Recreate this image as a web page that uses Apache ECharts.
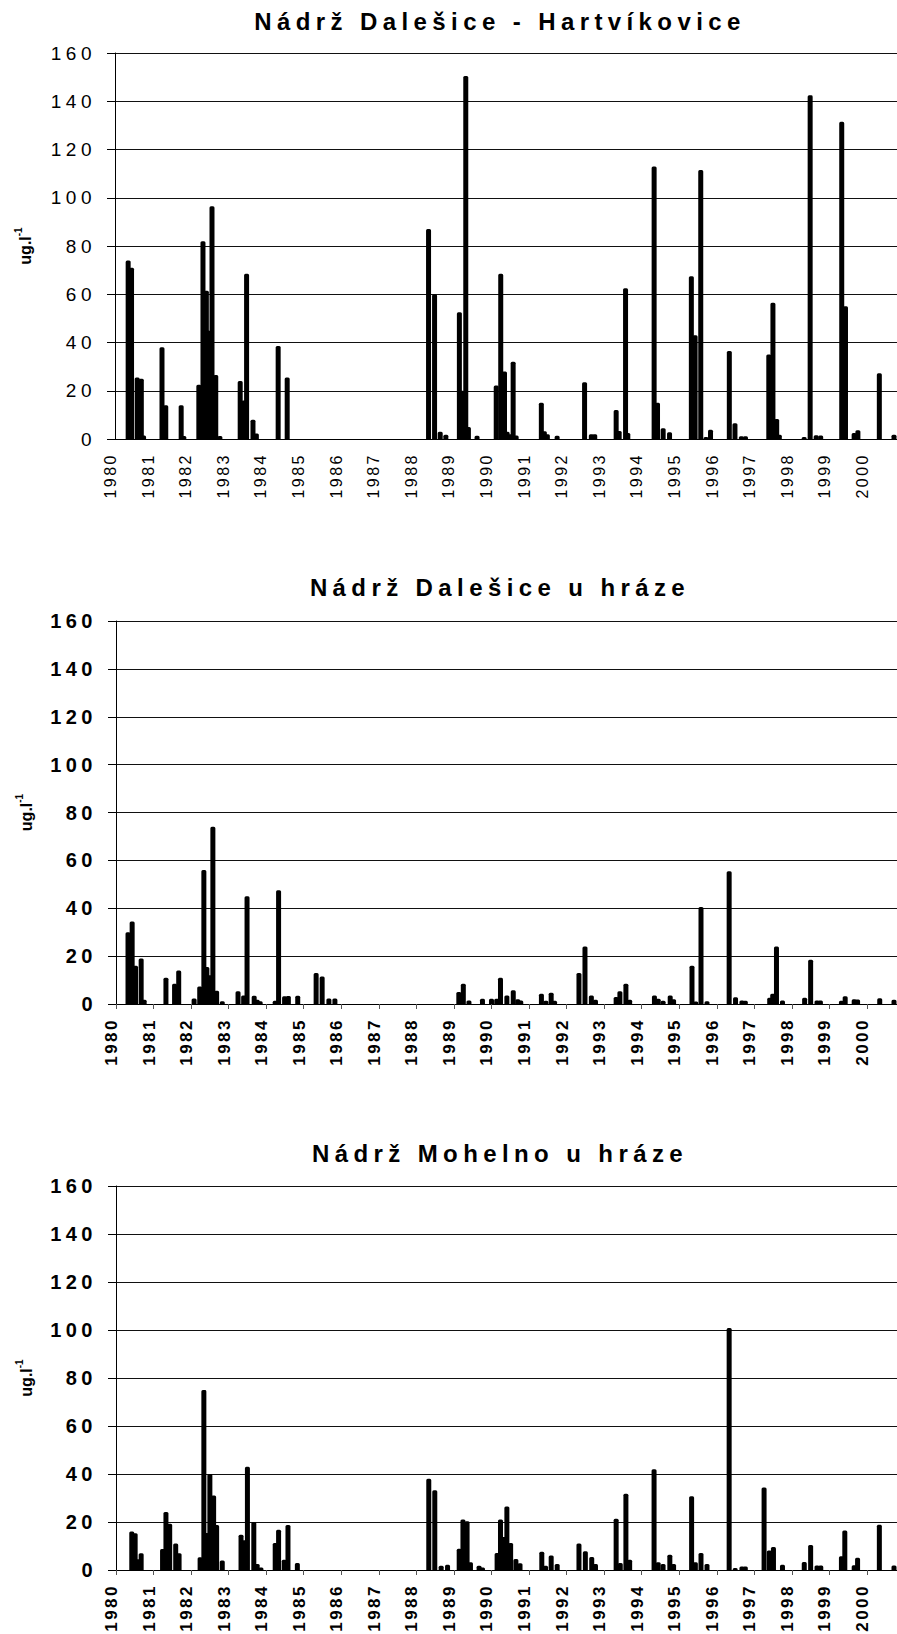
<!DOCTYPE html>
<html><head><meta charset="utf-8">
<script src="https://cdn.jsdelivr.net/npm/echarts@6/dist/echarts.min.js"></script>
<style>html,body{margin:0;padding:0;background:#fff}#c{width:897px;height:1634px}</style>
</head><body><div id="c"></div>
<script>
const titles = ['Nádrž Dalešice - Hartvíkovice', 'Nádrž Dalešice u hráze', 'Nádrž Mohelno u hráze'];
const yearTicks = [1980,1981,1982,1983,1984,1985,1986,1987,1988,1989,1990,1991,1992,1993,1994,1995,1996,1997,1998,1999,2000];
const yTicks = [0,20,40,60,80,100,120,140,160];
const unitMain = 'ug.l';
const unitSup = '-1';

// [date (decimal year), value ug/l]
const dalesiceHartvikovice = [
 [1980.35,74],[1980.44,71],[1980.59,25.5],[1980.70,25],[1980.76,1.5],
 [1981.25,38],[1981.35,14],[1981.76,14],[1981.83,1.2],
 [1982.23,22.5],[1982.34,82],[1982.43,61.5],[1982.47,45],[1982.58,96.5],[1982.68,26.5],[1982.79,1.2],
 [1983.33,24],[1983.43,16],[1983.50,68.5],[1983.67,8],[1983.76,2.3],
 [1984.34,38.5],[1984.58,25.5],
 [1988.34,87],[1988.50,60],[1988.65,3],[1988.80,1.8],
 [1989.16,52.5],[1989.23,20],[1989.33,150.5],[1989.40,5],[1989.63,1.3],
 [1990.14,22.2],[1990.26,68.5],[1990.36,28],[1990.43,3],[1990.52,2],[1990.59,32],[1990.67,1.5],
 [1991.34,15],[1991.42,3.2],[1991.50,2],[1991.76,1.3],
 [1992.49,23.5],[1992.67,2],[1992.76,2],
 [1993.33,12],[1993.41,3.3],[1993.58,62.5],[1993.64,2.5],
 [1994.34,113],[1994.43,15],[1994.58,4.5],[1994.75,2.8],
 [1995.33,67.5],[1995.43,43],[1995.58,111.5],[1995.72,0.8],[1995.84,3.8],
 [1996.34,36.5],[1996.49,6.5],[1996.66,1.1],[1996.77,1.1],
 [1997.39,35],[1997.50,56.5],[1997.60,8.3],[1997.67,1.8],
 [1998.33,0.8],[1998.49,142.5],[1998.65,1.6],[1998.77,1.4],
 [1999.33,131.5],[1999.43,55],[1999.66,2.5],[1999.76,3.6],
 [2000.33,27.3],[2000.72,1.8]
];
const dalesiceHraz = [
 [1980.32,30],[1980.43,34.5],[1980.52,16],[1980.67,19],[1980.75,1.8],
 [1981.33,11],[1981.56,8.5],[1981.67,14],
 [1982.08,2.3],[1982.23,7.3],[1982.34,56],[1982.42,15.5],[1982.50,12],[1982.58,74],[1982.68,5.5],[1982.83,1.2],
 [1983.25,5.3],[1983.40,3.6],[1983.49,45],[1983.68,3.4],[1983.76,1.8],[1983.84,1.2],
 [1984.24,1.4],[1984.33,47.5],[1984.49,3.2],[1984.59,3.3],[1984.84,3.4],
 [1985.33,13],[1985.49,11.5],[1985.67,2.3],[1985.83,2.3],
 [1989.13,5],[1989.25,8.5],[1989.40,1.5],[1989.76,2.2],
 [1990.00,2.2],[1990.14,2.2],[1990.24,11],[1990.41,3.6],[1990.58,5.7],[1990.70,2],[1990.78,1.5],
 [1991.33,4.3],[1991.45,1.4],[1991.59,4.7],[1991.68,1.4],
 [1992.33,13],[1992.49,24],[1992.66,3.6],[1992.77,1.8],
 [1993.32,2.9],[1993.42,5.3],[1993.58,8.5],[1993.68,1.8],
 [1994.34,3.6],[1994.44,2.2],[1994.57,1.4],[1994.76,3.5],[1994.85,2],
 [1995.34,16],[1995.44,1],[1995.58,40.5],[1995.74,1.2],
 [1996.33,55.5],[1996.50,2.8],[1996.67,1.5],[1996.76,1.4],
 [1997.41,2.6],[1997.49,4.3],[1997.59,24],[1997.75,1.5],
 [1998.34,2.6],[1998.50,18.5],[1998.67,1.5],[1998.76,1.5],
 [1999.32,1.4],[1999.42,3.2],[1999.66,2],[1999.75,1.9],
 [2000.34,2.4],[2000.72,1.8]
];
const mohelnoHraz = [
 [1980.42,16],[1980.51,15.3],[1980.58,4.5],[1980.67,7],
 [1981.24,8.8],[1981.33,24.2],[1981.43,19.3],[1981.59,11],[1981.68,7],
 [1982.24,5.3],[1982.34,75],[1982.41,15.4],[1982.50,40],[1982.60,31],[1982.68,18.8],[1982.83,4],
 [1983.33,14.7],[1983.42,12.4],[1983.50,43],[1983.67,20],[1983.76,2.5],[1983.86,1],
 [1984.24,11.3],[1984.33,16.8],[1984.48,4.3],[1984.58,18.8],[1984.83,2.9],
 [1988.33,38],[1988.49,33.2],[1988.66,1.8],[1988.83,2.2],
 [1989.14,8.9],[1989.24,21],[1989.35,20.3],[1989.44,3.2],[1989.67,1.8],[1989.76,1],
 [1990.15,7.1],[1990.24,21],[1990.33,13.8],[1990.41,26.5],[1990.51,11.3],[1990.65,4.6],[1990.76,2.8],
 [1991.34,7.6],[1991.44,1.8],[1991.59,6],[1991.75,2.5],
 [1992.33,11],[1992.50,7.8],[1992.67,5.4],[1992.77,2.5],
 [1993.32,21.4],[1993.43,2.9],[1993.58,31.8],[1993.68,4.3],
 [1994.33,42],[1994.44,3.2],[1994.57,2.5],[1994.75,6.4],[1994.85,2.5],
 [1995.33,30.7],[1995.43,3.2],[1995.58,7.1],[1995.74,2.5],
 [1996.33,100.8],[1996.49,0.8],[1996.67,1.5],[1996.76,1.5],
 [1997.26,34.4],[1997.40,8.1],[1997.51,9.6],[1997.75,2.2],
 [1998.33,3.3],[1998.50,10.4],[1998.67,1.9],[1998.77,1.9],
 [1999.32,5.7],[1999.41,16.5],[1999.66,2],[1999.75,5.1],
 [2000.33,18.9],[2000.72,1.9]
];

const FONT = '"Liberation Sans", Arial, Helvetica, sans-serif';
const seriesData = [dalesiceHartvikovice, dalesiceHraz, mohelnoHraz];
const panels = [
  {left:115, top:53, width:782, height:386, titleTop:9, bold:false, xTick:false},
  {left:116, top:621, width:781, height:383, titleTop:575, bold:true, xTick:true},
  {left:116, top:1186, width:781, height:384, titleTop:1141, bold:true, xTick:true}
];

const option = {
  animation: false,
  backgroundColor: '#fff',
  title: panels.map((p,i)=>({
    text: titles[i], left: 500, top: p.titleTop, textAlign: 'center', padding: 0,
    textStyle: {fontFamily: FONT, fontSize: 24, fontWeight: 'bold', color: '#000'}
  })),
  grid: panels.map(p=>({left:p.left, top:p.top, width:p.width, height:p.height, containLabel:false, outerBoundsMode:'none'})),
  xAxis: panels.map((p,i)=>({
    type:'value', gridIndex:i, min:1980, max:2000.8, interval:1,
    axisLine:{show:true, onZero:false, lineStyle:{color:'#000', width:1}},
    axisTick:{show:p.xTick, length:5, customValues: yearTicks, lineStyle:{color:'#555'}},
    splitLine:{show:false},
    axisLabel:{
      customValues: yearTicks, rotate:90, margin:14, verticalAlign:'bottom', lineHeight:9,
      fontFamily: FONT, fontSize: p.bold?17:16, fontWeight: p.bold?'bold':'normal', color:'#000',
      formatter: v => String(Math.round(v))
    }
  })),
  yAxis: panels.map((p,i)=>({
    type:'value', gridIndex:i, min:yTicks[0], max:yTicks[yTicks.length-1], interval:20,
    axisLine:{show:true, lineStyle:{color:'#000', width:1}},
    axisTick:{show:true, length:8, lineStyle:{color:'#000'}},
    splitLine:{show:true, lineStyle:{color:'#111', width:1}},
    axisLabel:{margin:19, fontFamily:FONT, fontSize: p.bold?20:19, fontWeight: p.bold?'bold':'normal', color:'#000'},
    name: '{a|' + unitMain + '}{b|' + unitSup + '}',
    nameLocation:'middle', nameRotate:90, nameGap:82,
    nameTextStyle:{rich:{
      a:{fontFamily:FONT, fontSize:16, fontWeight:'bold', color:'#000', lineHeight:20, verticalAlign:'bottom'},
      b:{fontFamily:FONT, fontSize:10, fontWeight:'bold', color:'#000', lineHeight:20, verticalAlign:'top'}
    }}
  })),
  series: seriesData.map((d,i)=>({
    type:'bar', xAxisIndex:i, yAxisIndex:i, data:d, barWidth:5,
    itemStyle:{color:'#000', borderRadius:[1.5,1.5,0,0]}
  }))
};

const chart = echarts.init(document.getElementById('c'), null, {renderer:'svg', width:897, height:1634});
chart.setOption(option);

function applySpacing(){
  document.querySelectorAll('#c svg text').forEach(t=>{
    const s = t.textContent;
    if (titles.indexOf(s) >= 0) t.setAttribute('letter-spacing','5.4');
    else if (/^\d{4}$/.test(s)) t.setAttribute('letter-spacing','2.5');
    else if (/^\d{1,3}$/.test(s)) t.setAttribute('letter-spacing','4.5');
  });
}
chart.on('finished', applySpacing);
applySpacing();
setTimeout(applySpacing, 30);
setTimeout(applySpacing, 300);
</script></body></html>
